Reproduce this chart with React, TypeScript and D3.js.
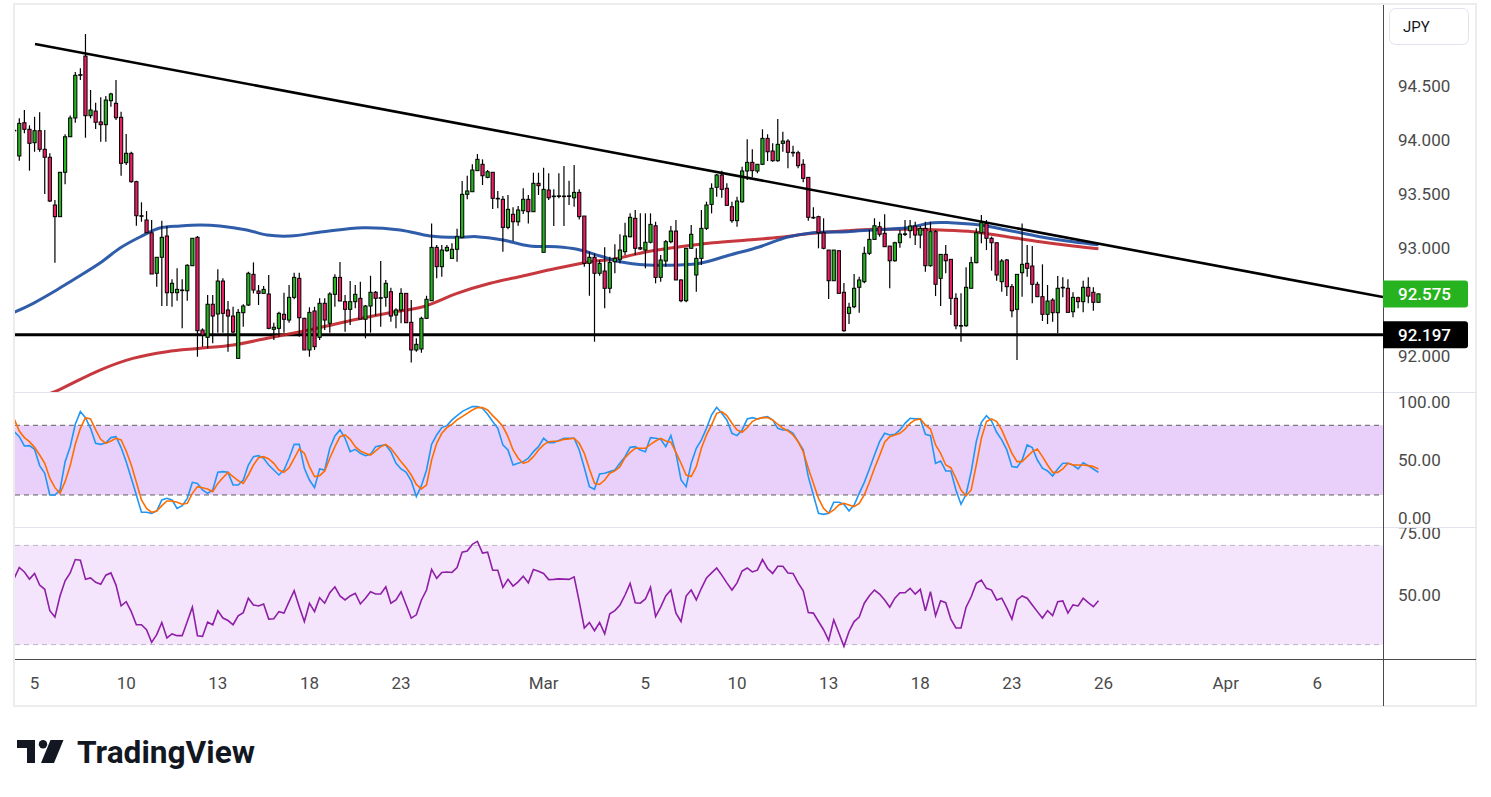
import * as d3 from 'd3';

const WIDTH = 1491;
const HEIGHT = 797;

// 4h bars, [open, high, low, close]
const ohlc: [number, number, number, number][] = [
  [94.09, 94.333, 93.842, 94.09], [93.852, 94.201, 93.808, 94.154], [94.16, 94.278, 94.062, 94.099], [94.099, 94.136, 93.716, 93.969],
  [93.975, 94.215, 93.891, 94.086], [94.086, 94.256, 93.891, 93.914], [93.914, 94.092, 93.5, 93.84], [93.84, 93.877, 93.426, 93.435],
  [93.398, 93.444, 92.864, 93.29], [93.29, 93.701, 93.29, 93.701], [93.701, 94.053, 93.59, 94.03], [94.03, 94.228, 94.03, 94.204],
  [94.204, 94.629, 94.16, 94.599], [94.599, 94.664, 94.555, 94.605], [94.777, 94.981, 94.021, 94.225], [94.225, 94.463, 94.201, 94.278],
  [94.268, 94.345, 94.102, 94.164], [94.167, 94.395, 93.984, 94.142], [94.142, 94.407, 93.984, 94.37], [94.364, 94.438, 94.308, 94.426],
  [94.34, 94.555, 94.185, 94.206], [94.21, 94.262, 93.669, 93.784], [93.79, 94.055, 93.768, 93.877], [93.877, 93.891, 93.604, 93.614],
  [93.614, 93.623, 93.206, 93.299], [93.299, 93.423, 93.243, 93.295], [93.259, 93.342, 93.141, 93.141], [93.141, 93.259, 92.759, 92.759],
  [92.766, 92.914, 92.641, 92.914], [92.914, 93.253, 92.463, 93.099], [93.111, 93.203, 92.463, 92.586], [92.586, 92.71, 92.456, 92.673],
  [92.586, 92.812, 92.512, 92.617], [92.611, 92.71, 92.256, 92.611], [92.604, 92.849, 92.512, 92.84], [92.836, 93.09, 92.836, 93.09],
  [93.099, 93.111, 91.993, 92.234], [92.24, 92.256, 92.086, 92.194], [92.173, 92.565, 92.071, 92.479], [92.479, 92.565, 92.117, 92.37],
  [92.389, 92.803, 92.216, 92.694], [92.694, 92.719, 92.216, 92.395], [92.426, 92.509, 92.04, 92.37], [92.37, 92.456, 92.21, 92.222],
  [91.978, 92.435, 91.978, 92.404], [92.401, 92.479, 92.271, 92.463], [92.472, 92.781, 92.463, 92.766], [92.756, 92.867, 92.58, 92.611],
  [92.602, 92.657, 92.472, 92.58], [92.58, 92.648, 92.58, 92.617], [92.574, 92.75, 92.247, 92.256], [92.247, 92.308, 92.148, 92.266],
  [92.256, 92.41, 92.178, 92.395], [92.386, 92.586, 92.216, 92.34], [92.333, 92.657, 92.308, 92.543], [92.543, 92.771, 92.525, 92.728],
  [92.719, 92.771, 92.178, 92.354], [92.349, 92.354, 92.056, 92.056], [92.056, 92.451, 91.993, 92.404], [92.417, 92.456, 92.056, 92.086],
  [92.173, 92.534, 92.148, 92.488], [92.488, 92.534, 92.24, 92.333], [92.303, 92.59, 92.216, 92.574], [92.571, 92.756, 92.456, 92.728],
  [92.728, 92.87, 92.509, 92.509], [92.503, 92.565, 92.225, 92.432], [92.432, 92.694, 92.287, 92.503], [92.503, 92.657, 92.441, 92.571],
  [92.534, 92.688, 92.342, 92.342], [92.34, 92.472, 92.164, 92.463], [92.463, 92.743, 92.216, 92.59], [92.59, 92.602, 92.37, 92.534],
  [92.54, 92.879, 92.271, 92.54], [92.543, 92.703, 92.456, 92.673], [92.595, 92.632, 92.318, 92.37], [92.379, 92.441, 92.256, 92.426],
  [92.426, 92.627, 92.303, 92.58], [92.58, 92.58, 92.308, 92.308], [92.312, 92.518, 91.941, 92.056], [92.056, 92.164, 92.04, 92.108],
  [92.065, 92.364, 92.03, 92.349], [92.349, 92.558, 92.342, 92.525], [92.512, 93.228, 92.512, 93.006], [93.006, 93.028, 92.719, 92.827],
  [92.827, 93.028, 92.734, 92.981], [92.975, 93.028, 92.966, 93.006], [92.904, 93.043, 92.904, 92.988], [92.988, 93.178, 92.873, 93.104],
  [93.099, 93.62, 93.09, 93.497], [93.497, 93.669, 93.451, 93.528], [93.521, 93.775, 93.521, 93.722], [93.716, 93.87, 93.716, 93.821],
  [93.775, 93.821, 93.583, 93.669], [93.654, 93.722, 93.645, 93.706], [93.701, 93.701, 93.361, 93.46], [93.46, 93.528, 93.367, 93.458],
  [93.451, 93.481, 92.966, 93.191], [93.191, 93.491, 93.173, 93.358], [93.312, 93.377, 93.065, 93.243], [93.243, 93.389, 93.206, 93.352],
  [93.345, 93.553, 93.315, 93.451], [93.451, 93.491, 93.228, 93.336], [93.336, 93.697, 93.336, 93.599], [93.599, 93.697, 93.491, 93.577],
  [92.96, 93.743, 92.96, 93.543], [93.537, 93.691, 93.444, 93.465], [93.481, 93.543, 93.203, 93.479], [93.481, 93.691, 93.46, 93.483],
  [93.481, 93.759, 93.203, 93.479], [93.481, 93.623, 93.398, 93.483], [93.465, 93.768, 93.382, 93.515], [93.515, 93.543, 93.265, 93.29],
  [93.296, 93.296, 92.827, 92.858], [92.858, 92.966, 92.558, 92.914], [92.914, 92.951, 92.132, 92.766], [92.766, 92.889, 92.743, 92.858],
  [92.787, 93.006, 92.441, 92.627], [92.627, 92.919, 92.58, 92.867], [92.873, 93.034, 92.766, 92.904], [92.895, 93.127, 92.858, 92.981],
  [92.966, 93.234, 92.935, 93.111], [93.104, 93.321, 93.099, 93.284], [93.275, 93.352, 92.935, 92.997], [93.003, 93.321, 92.981, 92.991],
  [92.981, 93.321, 92.812, 93.053], [93.053, 93.321, 93.043, 93.219], [93.206, 93.243, 92.673, 92.728], [92.728, 92.935, 92.688, 92.889],
  [92.88, 93.074, 92.827, 93.058], [93.058, 93.203, 93.043, 93.157], [93.157, 93.259, 92.704, 92.704], [92.704, 92.71, 92.497, 92.512],
  [92.512, 92.997, 92.497, 92.997], [92.997, 93.213, 92.997, 93.127], [92.75, 92.997, 92.595, 92.904], [92.904, 93.352, 92.843, 93.182],
  [93.182, 93.429, 93.167, 93.398], [93.404, 93.599, 93.321, 93.553], [93.562, 93.685, 93.475, 93.676], [93.676, 93.716, 93.465, 93.543],
  [93.553, 93.599, 93.389, 93.395], [93.382, 93.429, 93.234, 93.253], [93.253, 93.475, 93.197, 93.435], [93.428, 93.753, 93.419, 93.713],
  [93.713, 94.006, 93.629, 93.793], [93.793, 93.914, 93.654, 93.716], [93.713, 93.775, 93.691, 93.775], [93.775, 94.099, 93.768, 94.015],
  [94.015, 94.053, 93.805, 93.891], [93.898, 93.969, 93.799, 93.808], [93.808, 94.194, 93.799, 93.96], [93.969, 94.077, 93.891, 93.99],
  [93.99, 94.006, 93.738, 93.886], [93.886, 93.947, 93.845, 93.884], [93.882, 93.901, 93.738, 93.762], [93.775, 93.821, 93.608, 93.645],
  [93.654, 93.654, 93.253, 93.284], [93.284, 93.377, 93.268, 93.282], [93.29, 93.299, 92.997, 93.141], [93.141, 93.275, 92.988, 92.997],
  [92.981, 92.981, 92.528, 92.697], [92.697, 92.981, 92.697, 92.981], [92.975, 92.975, 92.58, 92.58], [92.59, 92.675, 92.225, 92.234],
  [92.395, 92.493, 92.296, 92.451], [92.456, 92.759, 92.441, 92.627], [92.636, 92.734, 92.401, 92.704], [92.688, 93.012, 92.673, 92.951],
  [92.951, 93.167, 92.935, 93.08], [93.08, 93.275, 93.074, 93.206], [93.197, 93.243, 93.105, 93.127], [93.136, 93.312, 93.012, 93.012],
  [93.018, 93.018, 92.627, 92.882], [92.882, 93.058, 92.873, 93.049], [93.049, 93.167, 93.003, 93.129], [93.129, 93.259, 93.111, 93.131],
  [93.16, 93.259, 93.09, 93.203], [93.203, 93.243, 93.028, 93.12], [93.12, 93.203, 92.997, 93.182], [93.182, 93.243, 92.781, 92.836],
  [92.836, 93.243, 92.827, 93.151], [93.151, 93.167, 92.555, 92.664], [92.719, 92.941, 92.463, 92.941], [92.941, 93.028, 92.766, 92.882],
  [92.895, 92.895, 92.38, 92.534], [92.534, 92.58, 92.247, 92.28], [92.28, 92.58, 92.132, 92.282], [92.28, 92.821, 92.271, 92.636],
  [92.627, 92.919, 92.627, 92.864], [92.864, 93.182, 92.858, 93.141], [93.141, 93.305, 93.043, 93.234], [93.228, 93.259, 92.981, 93.09],
  [93.09, 93.105, 92.79, 93.049], [93.049, 93.049, 92.697, 92.75], [92.688, 92.898, 92.595, 92.88], [92.889, 92.898, 92.555, 92.642],
  [92.642, 92.667, 92.358, 92.419], [92.432, 92.756, 91.963, 92.756], [92.771, 93.228, 92.549, 92.849], [92.858, 93.028, 92.734, 92.812],
  [92.833, 93.018, 92.488, 92.664], [92.664, 92.688, 92.549, 92.549], [92.549, 92.849, 92.324, 92.386], [92.386, 92.657, 92.296, 92.509],
  [92.518, 92.534, 92.318, 92.401], [92.401, 92.741, 92.21, 92.627], [92.636, 92.729, 92.543, 92.634], [92.627, 92.71, 92.404, 92.404],
  [92.41, 92.59, 92.358, 92.543], [92.54, 92.549, 92.441, 92.503], [92.503, 92.697, 92.404, 92.636], [92.636, 92.729, 92.488, 92.555],
  [92.59, 92.636, 92.419, 92.497], [92.497, 92.58, 92.493, 92.575],
];

// moving averages, [bar, price]
const maBlue: [number, number][] = [
  [0, 92.405], [3.75, 92.488], [8.35, 92.611], [11.55, 92.704], [16.86, 92.861], [20.8, 93.0], [24.7, 93.102],
  [28.6, 93.185], [32.6, 93.204], [36.5, 93.213], [40.4, 93.204], [45.7, 93.167], [49.7, 93.12], [54.2, 93.111],
  [60.7, 93.151], [68.5, 93.188], [75.8, 93.167], [81.7, 93.111], [87, 93.099], [90.9, 93.105], [96, 93.074],
  [101.3, 93.018], [106.6, 93.012], [110.6, 92.988], [115.1, 92.926], [119, 92.873], [124.3, 92.843], [130.8, 92.843],
  [134.7, 92.858], [140.6, 92.935], [146.5, 93.012], [151.8, 93.099], [156.9, 93.142], [163.6, 93.151], [168.7, 93.167],
  [175.4, 93.188], [180.5, 93.234], [183.9, 93.234], [189.7, 93.213], [195, 93.167], [201.5, 93.105], [208, 93.058],
  [213, 93.03],
];
const maRed: [number, number][] = [
  [3.1, 91.546], [5.07, 91.611], [9, 91.692], [16.86, 91.87], [23.3, 91.978], [30, 92.04], [36.5, 92.071],
  [43, 92.102], [49.7, 92.164], [56.2, 92.225], [60.7, 92.271], [67.3, 92.34], [73.8, 92.401], [80.3, 92.456],
  [87, 92.58], [93.5, 92.673], [99.9, 92.741], [106.6, 92.812], [113.1, 92.873], [117.6, 92.895], [124.3, 92.966],
  [130.8, 93.012], [137.3, 93.049], [144, 93.074], [150.5, 93.099], [156.9, 93.136], [163.6, 93.16], [168.7, 93.173],
  [175.4, 93.173], [181.9, 93.167], [188.4, 93.151], [195, 93.105], [201.5, 93.058], [208, 93.018], [213, 92.992],
];

const stochK = [
  74.5, 70.2, 62.2, 62.5, 59.3, 45.3, 38.7, 20, 20, 24.3,
  48.7, 61.6, 80.9, 91.8, 86.6, 77.4, 64.5, 63.6, 65, 69.4,
  70.2, 60.8, 48.7, 34.4, 20, 5.1, 5.1, 4.2, 6.2, 15.7,
  17.1, 15.7, 8.5, 10.8, 17.1, 30.9, 30, 24.3, 21.4, 24.3,
  39.5, 40.1, 39.5, 28.6, 28.6, 32.9, 45.8, 53, 53.9, 51.6,
  45.8, 41.5, 37.2, 41.5, 51.6, 63.6, 63.6, 43, 32.9, 26.3,
  42.4, 41.5, 60.2, 70.8, 76, 68.8, 57.3, 59.3, 55.9, 53.9,
  55, 61.6, 62.5, 63.1, 57.3, 47.3, 42.4, 39.5, 32.1, 18.6,
  28, 41.5, 63.6, 71.7, 78, 79.7, 84.6, 88.3, 91.8, 94.1,
  96.1, 96.1, 94.6, 89.5, 83.2, 77.4, 63.1, 58.8, 45.8, 47.3,
  48.7, 51.6, 57.3, 61.6, 68.8, 65.1, 65.1, 67, 68.8, 68.8,
  68.8, 58.8, 43.5, 27.2, 24.9, 38.1, 38.7, 40.1, 41.5, 47.3,
  53, 61, 61.6, 58.8, 57.3, 69.4, 68.8, 67.9, 61.6, 71.1,
  55.9, 32.9, 27.2, 47.3, 60.2, 67.4, 77.4, 88.9, 95.5, 90.3,
  84.6, 73.1, 71.1, 76, 85.5, 86.6, 85.5, 86.6, 87.5, 84.6,
  77.4, 76, 76, 73.1, 65.9, 58.8, 35.8, 20, 4.2, 3.3,
  4.2, 13.7, 13.7, 12, 6.2, 11.4, 21.4, 30.9, 42.4, 54.4,
  65.9, 73.1, 71.7, 72.2, 76, 81.7, 86, 85.5, 85.5, 72.2,
  71.1, 47.3, 49.3, 40.7, 40.7, 24.3, 12, 20.6, 40.1, 65.9,
  82.6, 88.3, 83.7, 74, 67.4, 58.8, 44.4, 43.8, 50.1, 63.1,
  60.8, 50.1, 43, 40.7, 36.4, 42.4, 47.3, 47.3, 45.8, 42.4,
  47.8, 45.3, 42.4, 39.5,
];
const stochD = [
  85.5, 75, 69.4, 65.9, 61, 54.4, 47.3, 34.4, 26.3, 21.4,
  31.5, 45.3, 63.6, 77.4, 86.6, 85.5, 76, 67.9, 64.5, 66.5,
  68.8, 67.4, 57.9, 45.8, 30.9, 15.7, 8.5, 5.1, 6.2, 10.8,
  14.8, 14.8, 13.7, 12, 12.8, 21.4, 27.2, 26.3, 25.2, 22.9,
  30, 34.9, 39.5, 35.8, 32.3, 30, 37.2, 45.8, 52.1, 53,
  51, 47.3, 41.5, 39.5, 43.5, 51.6, 59.6, 55.9, 44.4, 35.8,
  36.6, 40.7, 51.6, 61.6, 70.2, 71.7, 67.9, 61.6, 57.9, 55.9,
  54.4, 57.9, 61.6, 63.6, 60.2, 54.4, 48.7, 43.5, 37.2, 29.1,
  25.2, 28.6, 50.1, 64.5, 73.1, 78, 80.9, 84.6, 87.5, 90.3,
  93.2, 95.2, 95.2, 93.2, 88.3, 84, 78.9, 70.2, 58.8, 51.6,
  47.3, 48.7, 53, 58.8, 63.1, 65.9, 66.2, 66.5, 67.9, 68.3,
  68.8, 64.5, 55.9, 42.4, 30, 29.1, 32.9, 38.7, 40.7, 44.4,
  52.1, 56.7, 60.2, 60.2, 60.2, 63.6, 66.5, 68.8, 66.5, 65.4,
  56.7, 47.3, 37.2, 35.8, 44.4, 60.2, 71.7, 80.3, 90.3, 91.8,
  88.3, 81.7, 76, 74, 78, 83.2, 85.5, 86.6, 86.6, 84.6,
  80.9, 77.4, 75.1, 71.7, 65.9, 57.3, 43, 30, 17.1, 8.5,
  4.2, 7.1, 11.4, 12.8, 11.4, 10, 12.8, 20, 30.9, 43,
  53.9, 65.4, 70.2, 71.7, 73.1, 76.6, 81.7, 84.6, 85.5, 80.3,
  76.8, 63.1, 55.9, 45.8, 43.5, 34.4, 24.3, 19.4, 24.3, 45.8,
  68.8, 83.2, 85.5, 83.2, 76, 65.9, 55.9, 48.7, 48.7, 53,
  57.3, 59.6, 53, 45.8, 39.5, 39.5, 42.4, 47.3, 45.8, 45.8,
  45.8, 45.3, 44.4, 42.4,
];
const rsi = [
  56.7, 61.1, 59.3, 56.4, 58.7, 54, 52.3, 43.7, 41.1, 49.6,
  55.7, 58.9, 64.3, 64, 56.3, 56.9, 55.1, 54.3, 58, 58.9,
  54, 45.6, 47.3, 43.3, 38, 38, 36, 30.9, 34, 38.9,
  32.7, 34.3, 33.6, 33.6, 39.3, 45.1, 33.6, 33.3, 39.1, 38,
  43.7, 40.7, 39.7, 38, 41.6, 42.9, 48.7, 46, 45.6, 46.4,
  40.3, 40.4, 43.3, 42.7, 47.3, 51.7, 45.3, 39.3, 46.7, 43.3,
  48.9, 46.7, 50.9, 53.3, 49.6, 48, 49.6, 50.7, 46.4, 48.7,
  51.3, 50.4, 50.4, 53.3, 46.7, 48, 51.3, 46, 40.7, 42,
  48, 52, 60.3, 56.7, 59.1, 59.3, 59.1, 61.1, 67.3, 67.7,
  70.4, 71.6, 66.9, 67.3, 60, 60, 53.1, 56.3, 53.6, 55.3,
  57.6, 54.9, 60.3, 59.6, 58.7, 56.2, 56.3, 56.5, 56.4, 56.3,
  57.3, 47.3, 36.7, 38.9, 35.6, 38.9, 34.3, 42.4, 43.7, 46,
  50, 54.7, 46.9, 46.7, 48.4, 53.1, 41.3, 45.1, 49.6, 52,
  42.7, 39.3, 49.6, 52, 48, 52.7, 56.9, 58.9, 60.9, 58,
  54.9, 52, 54.9, 59.7, 60.9, 59.3, 60, 64.3, 60.7, 58.7,
  61.6, 61.6, 58.9, 58.7, 54.9, 51.7, 42.9, 42.7, 39.3, 36,
  31.7, 40, 34.7, 29.3, 35.3, 39.3, 41.1, 46.7, 49.7, 52,
  50.4, 48, 45.1, 48.7, 50.9, 50.9, 52.7, 50.4, 52.3, 43.6,
  51.3, 41.6, 47.7, 46.9, 40.3, 36.7, 36.7, 45.1, 49.3, 54.7,
  56, 52.7, 52, 48, 48.7, 44.7, 40.3, 48, 49.6, 48.7,
  46, 43.3, 40.7, 43.7, 41.7, 47.3, 47.6, 42.7, 46, 45.6,
  48.7, 46.9, 45.3, 47.7,
];

const trendline: [number, number][] = [[4.09, 94.889], [268.9, 92.546]];
const supportLevel = 92.197;
const lastPrice = 92.575;

// 92.500 sits under the last-price label in the original, so it is left out
const priceTicks = [94.5, 94.0, 93.5, 93.0, 92.0];
const stochTicks = [100, 50, 0];
const stochBand = [80, 20];
const rsiTicks = [75, 50];
const rsiBand = [70, 30];
const dateTicks: [number, string][] = [
  [4, '5'], [22, '10'], [40, '13'], [58, '18'], [76, '23'], [104, 'Mar'], [124, '5'],
  [142, '10'], [160, '13'], [178, '18'], [196, '23'], [214, '26'], [238, 'Apr'], [256, '6'],
];

const UP = '#27b320';
const DOWN = '#e91e63';
const FONT = 'Roboto, "Noto Sans", sans-serif';
const AXIS_TEXT = '#4a4a4a';

const left = 15, right = 1383, axisRight = 1476;
const mainTop = 5, mainBottom = 392;
const stochTop = 393, stochBottom = 527;
const rsiTop = 528, rsiBottom = 659;
const frameBottom = 706;

export default function App() {
  const x = d3.scaleLinear().domain([0.157, 268.9]).range([left, right]);
  const y = d3.scaleLinear().domain([91.6667, 95.25]).range([mainBottom, mainTop]);
  const ys = d3.scaleLinear().domain([-7.57, 107.8]).range([stochBottom, stochTop]);
  const yr = d3.scaleLinear().domain([23.79, 77.42]).range([660, 527]);

  const maLine = d3.line<[number, number]>()
    .x((d) => x(d[0]))
    .y((d) => y(d[1]))
    .curve(d3.curveCatmullRom);
  const stochLine = d3.line<number>().x((_, i) => x(i)).y((d) => ys(d));
  const rsiLine = d3.line<number>().x((_, i) => x(i)).y((d) => yr(d));

  return (
    <svg
      width={WIDTH}
      height={HEIGHT}
      style={{ position: 'absolute', left: 0, top: 0, background: '#fff' }}
      fontFamily={FONT}
    >
      <defs>
        <clipPath id="clip-main"><rect x={left} y={mainTop} width={right - left} height={mainBottom - mainTop} /></clipPath>
        <clipPath id="clip-stoch"><rect x={left} y={stochTop} width={right - left} height={stochBottom - stochTop} /></clipPath>
        <clipPath id="clip-rsi"><rect x={left} y={rsiTop} width={right - left} height={rsiBottom - rsiTop} /></clipPath>
        <clipPath id="clip-stoch-axis"><rect x={right} y={stochTop} width={axisRight - right} height={stochBottom - stochTop} /></clipPath>
        <clipPath id="clip-rsi-axis"><rect x={right} y={rsiTop} width={axisRight - right} height={rsiBottom - rsiTop} /></clipPath>
      </defs>

      <rect x={0} y={0} width={WIDTH} height={HEIGHT} fill="#fff" />
      <rect x={14} y={4} width={axisRight - 14} height={frameBottom - 4} fill="none" stroke="#ececec" strokeWidth={2} />

      {/* price pane */}
      <g clipPath="url(#clip-main)">
        <line x1={left} x2={right} y1={y(supportLevel)} y2={y(supportLevel)} stroke="#000" strokeWidth={3} />
        <path d={maLine(maRed) ?? ''} fill="none" stroke="#c1272d" strokeWidth={3} strokeOpacity={0.92} />
        <path d={maLine(maBlue) ?? ''} fill="none" stroke="#1d4fa3" strokeWidth={3} strokeOpacity={0.92} />
        {ohlc.map(([o, h, l, c], i) => {
          const cx = x(i);
          const top = y(Math.max(o, c));
          const bot = y(Math.min(o, c));
          return (
            <g key={i}>
              <line x1={cx} x2={cx} y1={y(h)} y2={y(l)} stroke="#000" strokeWidth={1.2} />
              <rect
                x={cx - 1.6}
                y={top}
                width={3.2}
                height={Math.max(0.6, bot - top)}
                fill={c >= o ? UP : DOWN}
                stroke="#000"
                strokeWidth={1}
              />
            </g>
          );
        })}
        <line
          x1={x(trendline[0][0])} y1={y(trendline[0][1])}
          x2={x(trendline[1][0])} y2={y(trendline[1][1])}
          stroke="#000" strokeWidth={2.6}
        />
      </g>

      {/* stochastic pane */}
      <g clipPath="url(#clip-stoch)">
        <rect x={left} y={ys(stochBand[0])} width={right - left} height={ys(stochBand[1]) - ys(stochBand[0])} fill="#e9d0fb" />
        {stochBand.map((v) => (
          <line key={v} x1={left} x2={right} y1={ys(v)} y2={ys(v)} stroke="#5d5d5d" strokeDasharray="5,4" strokeWidth={1} />
        ))}
        <path d={stochLine(stochK) ?? ''} fill="none" stroke="#2196f3" strokeWidth={1.6} />
        <path d={stochLine(stochD) ?? ''} fill="none" stroke="#ff6d00" strokeWidth={1.6} />
      </g>

      {/* RSI pane */}
      <g clipPath="url(#clip-rsi)">
        <rect x={left} y={yr(rsiBand[0])} width={right - left} height={yr(rsiBand[1]) - yr(rsiBand[0])} fill="#f4e5fd" />
        {rsiBand.map((v) => (
          <line key={v} x1={left} x2={right} y1={yr(v)} y2={yr(v)} stroke="#bdb5c2" strokeDasharray="5,4" strokeWidth={1} />
        ))}
        <path d={rsiLine(rsi) ?? ''} fill="none" stroke="#8e1fa6" strokeWidth={1.6} />
      </g>

      {/* separators */}
      <line x1={left} x2={axisRight} y1={392.5} y2={392.5} stroke="#e0e3eb" />
      <line x1={left} x2={axisRight} y1={527.5} y2={527.5} stroke="#e0e3eb" />
      <line x1={left} x2={axisRight} y1={659.5} y2={659.5} stroke="#4a4a4a" />
      <line x1={right + 0.5} x2={right + 0.5} y1={mainTop} y2={frameBottom} stroke="#4a4a4a" />

      {/* price axis */}
      {priceTicks.map((p) => (
        <text key={p} x={1398} y={y(p)} dy="0.36em" fontSize={17} fill={AXIS_TEXT}>{p.toFixed(3)}</text>
      ))}
      <g clipPath="url(#clip-stoch-axis)">
        {stochTicks.map((v) => (
          <text key={v} x={1398} y={ys(v)} dy="0.36em" fontSize={17} fill={AXIS_TEXT}>{v.toFixed(2)}</text>
        ))}
      </g>
      <g clipPath="url(#clip-rsi-axis)">
        {rsiTicks.map((v) => (
          <text key={v} x={1398} y={yr(v)} dy="0.36em" fontSize={17} fill={AXIS_TEXT}>{v.toFixed(2)}</text>
        ))}
      </g>

      {/* price labels */}
      <path
        d={`M${right},${y(lastPrice) - 13.5} H1465 q3,0 3,3 V${y(lastPrice) + 10.5} q0,3 -3,3 H${right} Z`}
        fill={UP}
      />
      <text x={1398} y={y(lastPrice)} dy="0.36em" fontSize={17} fontWeight={500} fill="#fff">{lastPrice.toFixed(3)}</text>
      <path
        d={`M${right},${y(supportLevel) - 13.5} H1465 q3,0 3,3 V${y(supportLevel) + 10.5} q0,3 -3,3 H${right} Z`}
        fill="#000"
      />
      <text x={1398} y={y(supportLevel)} dy="0.36em" fontSize={17} fontWeight={500} fill="#fff">{supportLevel.toFixed(3)}</text>

      {/* currency box */}
      <rect x={1389.5} y={8.5} width={79} height={36} rx={6} fill="#fff" stroke="#e0e3eb" />
      <text x={1403} y={27} dy="0.36em" fontSize={15} fill="#131722">JPY</text>

      {/* time axis */}
      {dateTicks.map(([bar, label], i) => (
        <text key={i} x={x(bar)} y={683} dy="0.36em" textAnchor="middle" fontSize={17} fill={AXIS_TEXT}>{label}</text>
      ))}

      {/* logo */}
      <g fill="#131722">
        <path d="M17,740 H35 V763 H27 V748 H17 Z" />
        <circle cx={43} cy={744.3} r={4.2} />
        <path d="M50.5,740 H63.5 L54,763 H41 Z" />
        <text x={77} y={763} fontSize={31} fontWeight={700} textLength={178} lengthAdjust="spacingAndGlyphs">TradingView</text>
      </g>
    </svg>
  );
}
